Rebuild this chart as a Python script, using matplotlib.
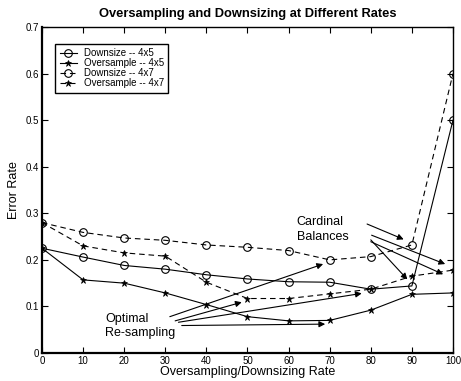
import matplotlib
matplotlib.use("Agg")
import matplotlib.pyplot as plt

plt.rcParams['font.family'] = ['Liberation Sans', 'DejaVu Sans']

rates = [0, 10, 20, 30, 40, 50, 60, 70, 80, 90, 100]
down45 = [0.225, 0.206, 0.188, 0.180, 0.168, 0.159, 0.153, 0.152, 0.137, 0.144, 0.500]
over45 = [0.225, 0.157, 0.150, 0.129, 0.104, 0.078, 0.069, 0.070, 0.092, 0.126, 0.129]
down47 = [0.280, 0.259, 0.247, 0.242, 0.232, 0.227, 0.220, 0.200, 0.207, 0.232, 0.600]
over47 = [0.280, 0.230, 0.215, 0.208, 0.152, 0.117, 0.117, 0.127, 0.137, 0.165, 0.178]
labels = ["Downsize -- 4x5", "Oversample -- 4x5", "Downsize -- 4x7", "Oversample -- 4x7"]

# annotation arrows (start -> end) in data coordinates
optimal_arrows = [((31.1, 0.078), (68.4, 0.191)),
                  ((32.4, 0.069), (48.6, 0.109)),
                  ((33.2, 0.066), (77.8, 0.128)),
                  ((34.0, 0.059), (68.9, 0.062))]
cardinal_arrows = [((79.1, 0.277), (88.0, 0.244)),
                   ((80.2, 0.253), (98.1, 0.191)),
                   ((80.0, 0.243), (88.9, 0.158)),
                   ((80.0, 0.239), (97.6, 0.169))]

fig = plt.figure(figsize=(4.61, 3.81), dpi=100)
ax = fig.add_axes([0.0911, 0.0735, 0.8915, 0.8555])

lw = 0.8
ax.plot(rates, down45, '-', color='black', lw=lw, marker='o', ms=5.5,
        mfc='none', mec='black', mew=0.8, label=labels[0])
ax.plot(rates, over45, '-', color='black', lw=lw, marker='*', ms=4.5,
        mfc='black', mec='black', mew=0.5, label=labels[1])
ax.plot(rates, down47, '--', color='black', lw=lw, marker='o', ms=5.5,
        mfc='none', mec='black', mew=0.8, dashes=(5, 3.5), label=labels[2])
ax.plot(rates, over47, '--', color='black', lw=lw, marker='*', ms=4.5,
        mfc='black', mec='black', mew=0.5, dashes=(5, 3.5), label=labels[3])

for (s, e) in optimal_arrows + cardinal_arrows:
    ax.annotate('', xy=e, xytext=s,
                arrowprops=dict(arrowstyle='-|>', color='black', lw=0.8,
                                mutation_scale=9, shrinkA=0, shrinkB=0))

ax.text(15.3, 0.073, "Optimal", fontsize=9, va='center', ha='left')
ax.text(15.3, 0.043, "Re-sampling", fontsize=9, va='center', ha='left')
ax.text(62, 0.282, "Cardinal", fontsize=9, va='center', ha='left')
ax.text(62, 0.250, "Balances", fontsize=9, va='center', ha='left')

ax.set_xlim(0, 100)
ax.set_ylim(0, 0.7)
ax.set_xticks(range(0, 101, 10))
ax.set_yticks([0, 0.1, 0.2, 0.3, 0.4, 0.5, 0.6, 0.7])
ax.set_yticklabels(["0", "0.1", "0.2", "0.3", "0.4", "0.5", "0.6", "0.7"])
ax.tick_params(direction='in', top=True, right=True, labelsize=7, length=4,
               width=0.8, pad=2)
for side in ['left', 'bottom']:
    ax.spines[side].set_linewidth(1.6)
for side in ['top', 'right']:
    ax.spines[side].set_linewidth(1.0)

ax.set_title("Oversampling and Downsizing at Different Rates", fontsize=9.3,
             fontweight='bold', pad=7)
ax.set_xlabel("Oversampling/Downsizing Rate", fontsize=9, labelpad=0)
ax.set_ylabel("Error Rate", fontsize=9, labelpad=4)

leg = ax.legend(loc='upper left', bbox_to_anchor=(0.032, 0.948),
                borderaxespad=0, fontsize=7, fancybox=False, framealpha=1,
                edgecolor='black', handlelength=1.8, handletextpad=0.7,
                labelspacing=0.0, borderpad=0.45)
leg.get_frame().set_linewidth(1.0)

fig.savefig("out.png", dpi=100)
